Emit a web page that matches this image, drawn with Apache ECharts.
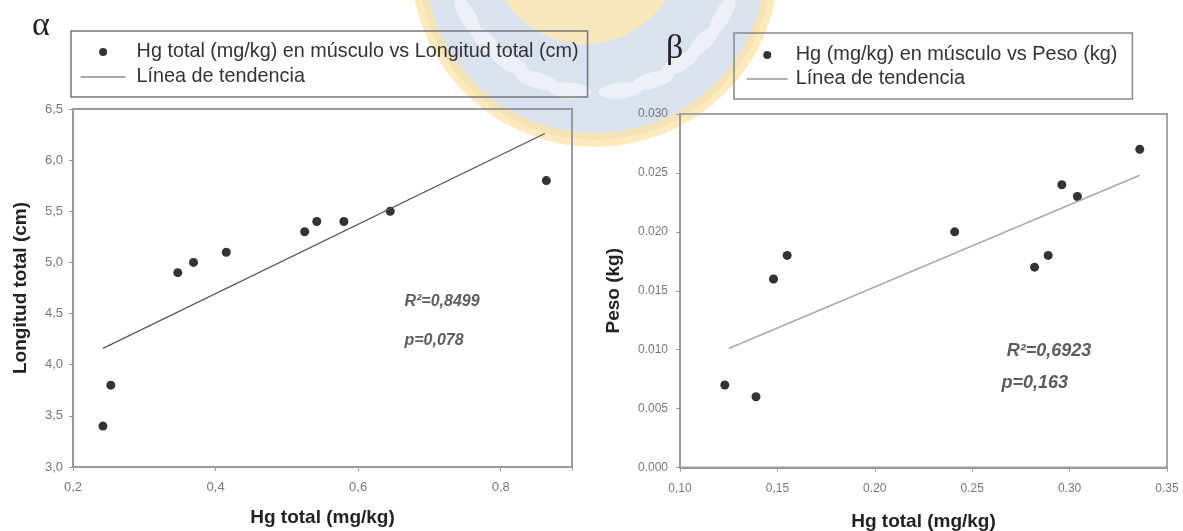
<!DOCTYPE html>
<html><head><meta charset="utf-8">
<script src="https://cdn.jsdelivr.net/npm/echarts@6/dist/echarts.min.js"></script>
<style>html,body{margin:0;padding:0;background:#fff}#c{width:1183px;height:531px}</style>
</head><body><div id="c"></div>
<script>
// ---- Panel α data: Hg total (mg/kg) vs Longitud total (cm)
const hgA = [0.242, 0.253, 0.347, 0.369, 0.415, 0.525, 0.542, 0.580, 0.645, 0.864];
const lenA = [3.4, 3.8, 4.9, 5.0, 5.1, 5.3, 5.4, 5.4, 5.5, 5.8];
const trendHgA = [0.242, 0.862];
const trendLenA = [4.16, 6.26];
const xTicksA = ['0,2', '0,4', '0,6', '0,8'];
const yTicksA = ['3,0', '3,5', '4,0', '4,5', '5,0', '5,5', '6,0', '6,5'];
const statsA = ['R²=0,8499', 'p=0,078'];
const statsPosA = [[0.665, 4.62], [0.665, 4.24]];

// ---- Panel β data: Hg (mg/kg) vs Peso (kg)
const hgB = [0.123, 0.139, 0.148, 0.155, 0.241, 0.282, 0.289, 0.296, 0.304, 0.336];
const pesoB = [0.007, 0.006, 0.016, 0.018, 0.020, 0.017, 0.018, 0.024, 0.023, 0.027];
const trendHgB = [0.125, 0.336];
const trendPesoB = [0.0101, 0.0248];
const xTicksB = ['0,10', '0,15', '0.20', '0.25', '0.30', '0.35'];
const yTicksB = ['0.000', '0.005', '0.010', '0.015', '0.020', '0.025', '0.030'];
const statsB = ['R²=0,6923', 'p=0,163'];
const statsPosB = [[0.2677, 0.00985], [0.265, 0.00716]];

const nameA = 'Hg total (mg/kg) en músculo vs Longitud total (cm)';
const nameB = 'Hg (mg/kg) en músculo vs Peso (kg)';
const trendName = 'Línea de tendencia';

const FONT = '"Liberation Sans", Arial, sans-serif';
const zip = (a, b) => a.map((v, i) => [v, b[i]]);
const fmt = (labels, min, step) => v => {
  const f = (v - min) / step, i = Math.round(f);
  return (Math.abs(f - i) < 0.01 && labels[i] !== undefined) ? labels[i] : '';
};

function axis(common) {
  return Object.assign({
    type: 'value',
    axisLine: { show: true, onZero: false, lineStyle: { color: '#9a9a9a', width: 2 } },
    axisTick: { show: true, inside: false, length: 4, lineStyle: { color: '#9a9a9a', width: 1 } },
    splitLine: { show: false },
    nameTextStyle: { fontFamily: FONT, fontWeight: 'bold', fontSize: 19, color: '#222' },
    nameLocation: 'middle'
  }, common);
}

const chart = echarts.init(document.getElementById('c'), null, { renderer: 'canvas' });

// watermark (faded emblem)
const leaves = [];
const leafSpec = [[-150, 62, -60], [-128, 92, -45], [-100, 118, -30], [-68, 138, -15], [-30, 150, -5],
                  [150, 62, 60], [128, 92, 45], [100, 118, 30], [68, 138, 15], [30, 150, 5]];
leafSpec.forEach(s => leaves.push({
  type: 'ellipse', z: -10, silent: true,
  shape: { cx: 0, cy: 0, rx: 22, ry: 8 },
  x: 595 + s[0] * 0.85, y: -37 + s[1] * 0.85, rotation: s[2] * Math.PI / 180,
  style: { fill: '#eef2f8', opacity: 0.85 }
}));

const hiddenDot = { color: 'rgba(0,0,0,0)', borderWidth: 0, borderColor: 'rgba(0,0,0,0)' };

chart.setOption({
  animation: false,
  backgroundColor: '#fff',
  graphic: [
    { type: 'circle', z: -12, silent: true, shape: { cx: 595, cy: -37, r: 177 }, style: { fill: '#cdd8ea', stroke: '#fde3a6', lineWidth: 14, opacity: 0.75 } },
    { type: 'circle', z: -11, silent: true, shape: { cx: 585, cy: -52, r: 96 }, style: { fill: '#fde8b8', opacity: 0.9 } },
    ...leaves,
    { type: 'text', left: 32, top: 9, style: { text: 'α', font: '34px "Liberation Serif", "DejaVu Serif", serif', fill: '#222' } },
    { type: 'text', left: 666, top: 32, style: { text: 'β', font: '34px "Liberation Serif", "DejaVu Serif", serif', fill: '#222' } }
  ],
  legend: [
    {
      left: 71, top: 31, orient: 'vertical', itemWidth: 45, itemHeight: 8, itemGap: 5,
      padding: [11, 9, 10, 9], borderColor: '#777', borderWidth: 1.5, selectedMode: false,
      textStyle: { fontFamily: FONT, fontSize: 19.8, color: '#333', lineHeight: 20, padding: [0, 0, 0, 6] },
      data: [
        { name: nameA, icon: 'circle', itemStyle: { color: '#000' } },
        { name: trendName, itemStyle: hiddenDot, lineStyle: { color: '#555', width: 1.2 } }
      ]
    },
    {
      left: 734, top: 33, orient: 'vertical', itemWidth: 41, itemHeight: 8, itemGap: 4,
      padding: [12, 15, 10, 12], borderColor: '#888', borderWidth: 1.5, selectedMode: false,
      textStyle: { fontFamily: FONT, fontSize: 19.9, color: '#333', lineHeight: 20, padding: [0, 0, 0, 3] },
      data: [
        { name: nameB, icon: 'circle', itemStyle: { color: '#000' } },
        { name: trendName, itemStyle: hiddenDot, lineStyle: { color: '#999', width: 1.5 } }
      ]
    }
  ],
  grid: [
    { left: 73, top: 109, width: 499, height: 358, show: true, borderColor: '#9a9a9a', borderWidth: 2, backgroundColor: 'transparent', containLabel: false, outerBoundsMode: 'none' },
    { left: 680, top: 114, width: 487, height: 353.5, show: true, borderColor: '#a5a5a5', borderWidth: 2, backgroundColor: 'transparent', containLabel: false, outerBoundsMode: 'none' }
  ],
  xAxis: [
    axis({ gridIndex: 0, min: 0.2, max: 0.9, interval: 0.2, name: 'Hg total (mg/kg)', nameGap: 41,
      axisLabel: { formatter: fmt(xTicksA, 0.2, 0.2), fontFamily: FONT, fontSize: 13, color: '#777', margin: 14 } }),
    axis({ gridIndex: 1, min: 0.10, max: 0.35, interval: 0.05, name: 'Hg total (mg/kg)', nameGap: 45,
      axisLabel: { formatter: fmt(xTicksB, 0.10, 0.05), fontFamily: FONT, fontSize: 12, color: '#777', margin: 15 } })
  ],
  yAxis: [
    axis({ gridIndex: 0, min: 3, max: 6.5, interval: 0.5, name: 'Longitud total (cm)', nameGap: 43,
      axisLabel: { formatter: fmt(yTicksA, 3, 0.5), fontFamily: FONT, fontSize: 13, color: '#777', margin: 10 } }),
    axis({ gridIndex: 1, min: 0, max: 0.03, interval: 0.005, name: 'Peso (kg)', nameGap: 57,
      axisLabel: { formatter: fmt(yTicksB, 0, 0.005), fontFamily: FONT, fontSize: 12, color: '#777', margin: 12 } })
  ],
  series: [
    { name: nameA, type: 'scatter', xAxisIndex: 0, yAxisIndex: 0, symbol: 'circle', symbolSize: 9,
      itemStyle: { color: '#000' }, data: zip(hgA, lenA) },
    { name: trendName, type: 'line', xAxisIndex: 0, yAxisIndex: 0, symbol: 'none',
      lineStyle: { color: '#555', width: 1.2 }, data: zip(trendHgA, trendLenA) },
    { name: nameB, type: 'scatter', xAxisIndex: 1, yAxisIndex: 1, symbol: 'circle', symbolSize: 9,
      itemStyle: { color: '#000' }, data: zip(hgB, pesoB) },
    { name: trendName, type: 'line', xAxisIndex: 1, yAxisIndex: 1, symbol: 'none',
      lineStyle: { color: '#aaa', width: 1.5 }, data: zip(trendHgB, trendPesoB) },
    { type: 'scatter', xAxisIndex: 0, yAxisIndex: 0, symbolSize: 0, silent: true,
      label: { show: true, position: 'inside', align: 'left', formatter: p => statsA[p.dataIndex],
        fontFamily: FONT, fontSize: 16, fontStyle: 'italic', fontWeight: 'bold', color: '#333' },
      data: statsPosA },
    { type: 'scatter', xAxisIndex: 1, yAxisIndex: 1, symbolSize: 0, silent: true,
      label: { show: true, position: 'inside', align: 'left', formatter: p => statsB[p.dataIndex],
        fontFamily: FONT, fontSize: 18, fontStyle: 'italic', fontWeight: 'bold', color: '#333' },
      data: statsPosB }
  ]
});
</script></body></html>
